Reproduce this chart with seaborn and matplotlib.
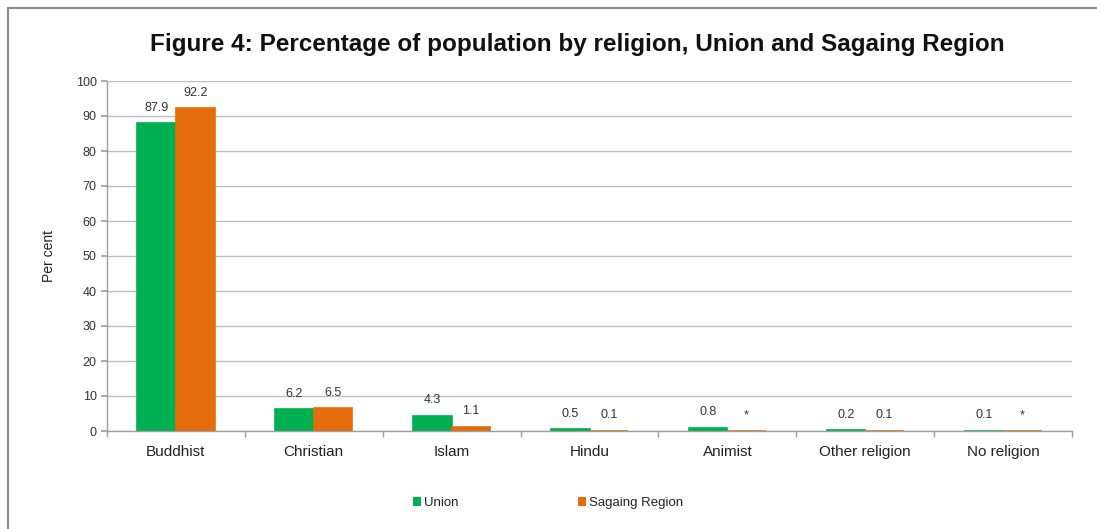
import matplotlib
matplotlib.use("Agg")
import matplotlib.pyplot as plt
import seaborn as sns
import pandas as pd
from matplotlib.patches import Rectangle

religions = ["Buddhist", "Christian", "Islam", "Hindu", "Animist", "Other religion", "No religion"]
union = [87.9, 6.2, 4.3, 0.5, 0.8, 0.2, 0.1]
sagaing = [92.2, 6.5, 1.1, 0.1, 0.05, 0.1, 0.05]
union_labels = ["87.9", "6.2", "4.3", "0.5", "0.8", "0.2", "0.1"]
sagaing_labels = ["92.2", "6.5", "1.1", "0.1", "*", "0.1", "*"]
series = ["Union", "Sagaing Region"]
colors = ["#00B050", "#E46C0A"]

df = pd.DataFrame({
    "Religion": religions * 2,
    "Value": union + sagaing,
    "Series": [series[0]] * len(religions) + [series[1]] * len(religions),
})

sns.set_theme(style="white")
plt.rcParams["font.family"] = ["Liberation Sans", "DejaVu Sans"]

fig = plt.figure(figsize=(10.97, 5.29), dpi=100)
ax = fig.add_axes([107 / 1097, 1 - 431 / 529, (1072 - 107) / 1097, (431 - 81) / 529])

sns.barplot(data=df, x="Religion", y="Value", hue="Series", palette=colors,
            order=religions, hue_order=series, width=0.56, ax=ax,
            saturation=1, legend=True, linewidth=0)

# thin same-colour edge so very small bars remain visible, as in the reference
for cont, col in zip(ax.containers, colors):
    for p in cont:
        p.set_edgecolor(col)
        p.set_linewidth(1.2)

for cont, labs in zip(ax.containers, [union_labels, sagaing_labels]):
    ax.bar_label(cont, labels=labs, padding=7, fontsize=9, color="#333333")

ax.set_ylim(0, 100)
ax.set_yticks(range(0, 101, 10))
ax.set_xlim(-0.5, len(religions) - 0.5)
ax.grid(axis="y", color="#bfbfbf", linewidth=1)
ax.set_axisbelow(True)
for s in ["top", "right"]:
    ax.spines[s].set_visible(False)
for s in ["left", "bottom"]:
    ax.spines[s].set_color("#a0a0a0")
    ax.spines[s].set_linewidth(1)
ax.set_xlabel("")
ax.set_ylabel("Per cent", fontsize=10, color="#222222", labelpad=14)
ax.tick_params(axis="y", labelsize=9, colors="#333333", length=4, color="#a0a0a0", direction="out", left=True)
ax.tick_params(axis="x", labelsize=11, colors="#222222", length=0, pad=10)
ax.set_xticks([i + 0.5 for i in range(-1, len(religions))], minor=True)
ax.tick_params(axis="x", which="minor", length=4, color="#a0a0a0", direction="out", bottom=True)

leg = ax.legend(loc="upper center", bbox_to_anchor=(0.457, -0.155), ncol=2, frameon=False,
                fontsize=9.5, handlelength=0.6, handleheight=0.6, handletextpad=0.2,
                columnspacing=9.1)
for t in leg.get_texts():
    t.set_color("#222222")

fig.text(0.526, 1 - 45 / 529, "Figure 4: Percentage of population by religion, Union and Sagaing Region",
         ha="center", va="center", fontsize=17.5, fontweight="bold", color="#111111")

fig.patches.append(Rectangle((8 / 1097, -0.1), 1.2, 1 - 8 / 529 + 0.1, transform=fig.transFigure,
                             fill=False, edgecolor="#8c8c8c", linewidth=1.5))

fig.savefig("out.png", dpi=100)
